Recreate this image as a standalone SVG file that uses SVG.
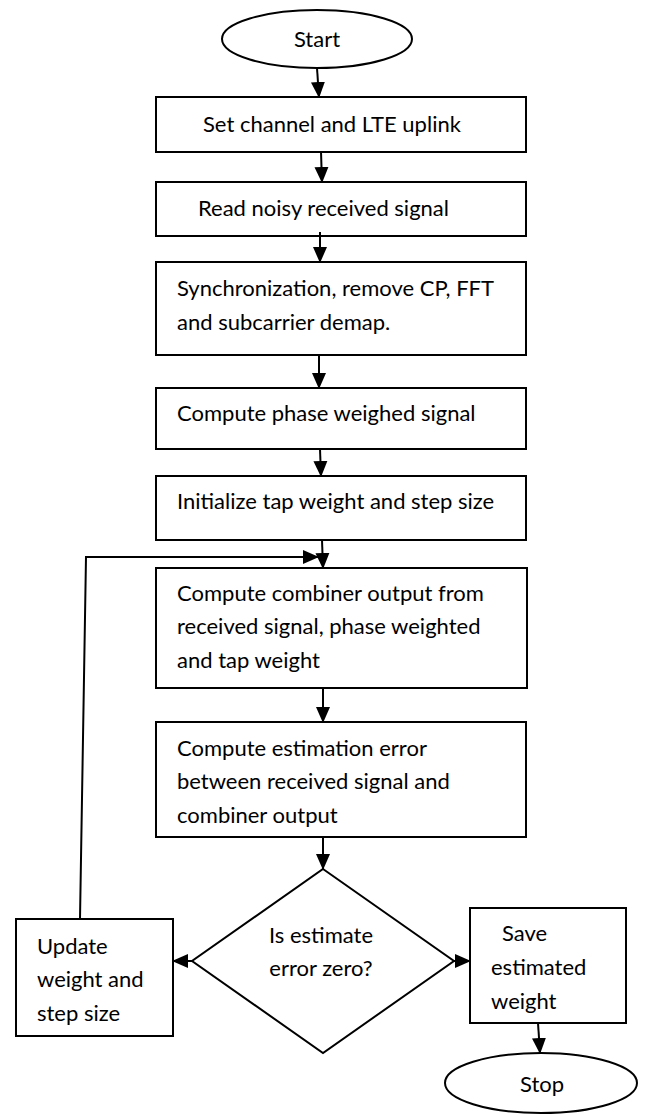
<svg xmlns="http://www.w3.org/2000/svg" width="646" height="1116" viewBox="0 0 646 1116">
<style>
.n{fill:#fff;stroke:#000;stroke-width:2}
.t{font-family:Lato,"Liberation Sans",sans-serif;font-size:22px;fill:#000}
.c{fill:none;stroke:#000;stroke-width:2}
</style>
<defs>
<marker id="ah" markerUnits="userSpaceOnUse" markerWidth="16" markerHeight="16" viewBox="0 0 16 16" refX="15" refY="8" orient="auto">
<path d="M0,1 L16,8 L0,15 Z" fill="#000"/>
</marker>
</defs>
<rect width="646" height="1116" fill="#fff"/>
<g id="start"><ellipse class="n" cx="317" cy="39" rx="95" ry="29"/><text class="t" x="317" y="47" text-anchor="middle">Start</text></g>
<g id="n1"><rect class="n" x="156" y="97" width="370" height="55"/><text class="t" x="203" y="132">Set channel and LTE uplink</text></g>
<g id="n2"><rect class="n" x="156" y="182" width="370" height="54"/><text class="t" x="198" y="216">Read noisy received signal</text></g>
<g id="n3"><rect class="n" x="156" y="262" width="370" height="93"/><text class="t" x="177" y="296">Synchronization, remove CP, FFT</text><text class="t" x="177" y="330">and subcarrier demap.</text></g>
<g id="n4"><rect class="n" x="156" y="388" width="370" height="61"/><text class="t" x="177" y="421">Compute phase weighed signal</text></g>
<g id="n5"><rect class="n" x="156" y="476" width="370" height="64"/><text class="t" x="177" y="509">Initialize tap weight and step size</text></g>
<g id="n6"><rect class="n" x="156" y="568" width="371" height="120"/><text class="t" x="177" y="601">Compute combiner output from</text><text class="t" x="177" y="634">received signal, phase weighted</text><text class="t" x="177" y="668">and tap weight</text></g>
<g id="n7"><rect class="n" x="156" y="722" width="370" height="115"/><text class="t" x="177" y="756">Compute estimation error</text><text class="t" x="177" y="789">between received signal and</text><text class="t" x="177" y="823">combiner output</text></g>
<g id="decision"><polygon class="n" points="323,869 454,961 323,1053 192,961"/><text class="t" x="321" y="943" text-anchor="middle">Is estimate</text><text class="t" x="321" y="976" text-anchor="middle">error zero?</text></g>
<g id="update"><rect class="n" x="16" y="919" width="157" height="117"/><text class="t" x="37" y="954">Update</text><text class="t" x="37" y="987">weight and</text><text class="t" x="37" y="1021">step size</text></g>
<g id="save"><rect class="n" x="470" y="908" width="156" height="115"/><text class="t" x="502" y="941">Save</text><text class="t" x="491" y="975">estimated</text><text class="t" x="491" y="1009">weight</text></g>
<g id="stop"><ellipse class="n" cx="541" cy="1083" rx="96" ry="30"/><text class="t" x="542" y="1092" text-anchor="middle">Stop</text></g>
<g id="connectors">
<path class="c" d="M317,68 L319,97" marker-end="url(#ah)"/>
<path class="c" d="M321,152 L322,182" marker-end="url(#ah)"/>
<path class="c" d="M320,232 L320,262" marker-end="url(#ah)"/>
<path class="c" d="M319,355 L319,388" marker-end="url(#ah)"/>
<path class="c" d="M320,449 L321,476" marker-end="url(#ah)"/>
<path class="c" d="M322,540 L323,568" marker-end="url(#ah)"/>
<path class="c" d="M323,688 L323,722" marker-end="url(#ah)"/>
<path class="c" d="M323,837 L323,869" marker-end="url(#ah)"/>
<path class="c" d="M192,961 L173,961" marker-end="url(#ah)"/>
<path class="c" d="M454,961 L470,961" marker-end="url(#ah)"/>
<path class="c" d="M538,1023 L540,1053" marker-end="url(#ah)"/>
<path class="c" d="M80,919 L86,557 L318,557" marker-end="url(#ah)"/>
</g>
</svg>
